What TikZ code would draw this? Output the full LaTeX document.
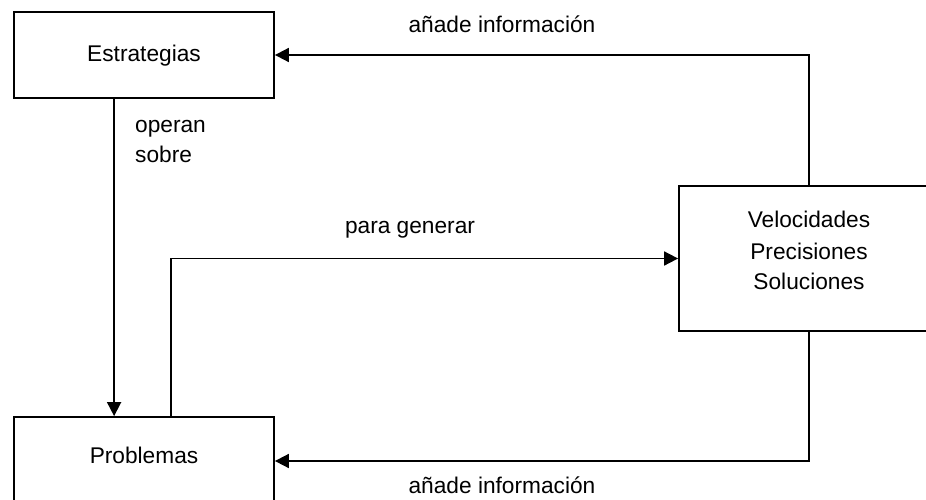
\documentclass[tikz,border=0pt]{standalone}
\usepackage{fontspec}
\setmainfont{Liberation Sans}
\usetikzlibrary{arrows.meta}
\begin{document}
\begin{tikzpicture}[x=1pt,y=-1pt,
  box/.style={draw, line width=1.8pt, inner sep=0pt},
  lbl/.style={font=\fontsize{22.7}{31}\selectfont, inner sep=0pt, anchor=base},
  arr/.style={line width=1.8pt, -{Triangle[length=14pt,width=14pt]}}]
\useasboundingbox (0,0) rectangle (926,500);
\clip (0,0) rectangle (926,500);
% boxes
\node[box, minimum width=260pt, minimum height=86pt] (est) at (144,55) {};
\node[box, minimum width=260pt, minimum height=88pt] (prob) at (144,461) {};
\node[box, minimum width=260pt, minimum height=145pt] (vel) at (809,258.5) {};
% box texts
\node[lbl] (estT) at (144,62) {Estrategias};
\node[lbl] (probT) at (144,463) {Problemas};
\node[lbl] (velA) at (809,227) {Velocidades};
\node[lbl] (velB) at (809,259) {Precisiones};
\node[lbl] (velC) at (809,289) {Soluciones};
% connector labels
\node[lbl, anchor=base west] (opA) at (135,133) {operan};
\node[lbl, anchor=base west] (opB) at (135,162) {sobre};
\node[lbl] (pg) at (410,233) {para generar};
\node[lbl] (aiTop) at (502,33) {añade información};
\node[lbl] (aiBot) at (502,493) {añade información};
% connectors
\draw[arr] (vel.north) |- (est.east);
\draw[arr] (vel.south) |- (prob.east);
\draw[arr] ([xshift=101pt]est.south west) -- ([xshift=101pt]prob.north west);
\draw[arr] ([xshift=158pt]prob.north west) |- (vel.west);
\end{tikzpicture}
\end{document}
